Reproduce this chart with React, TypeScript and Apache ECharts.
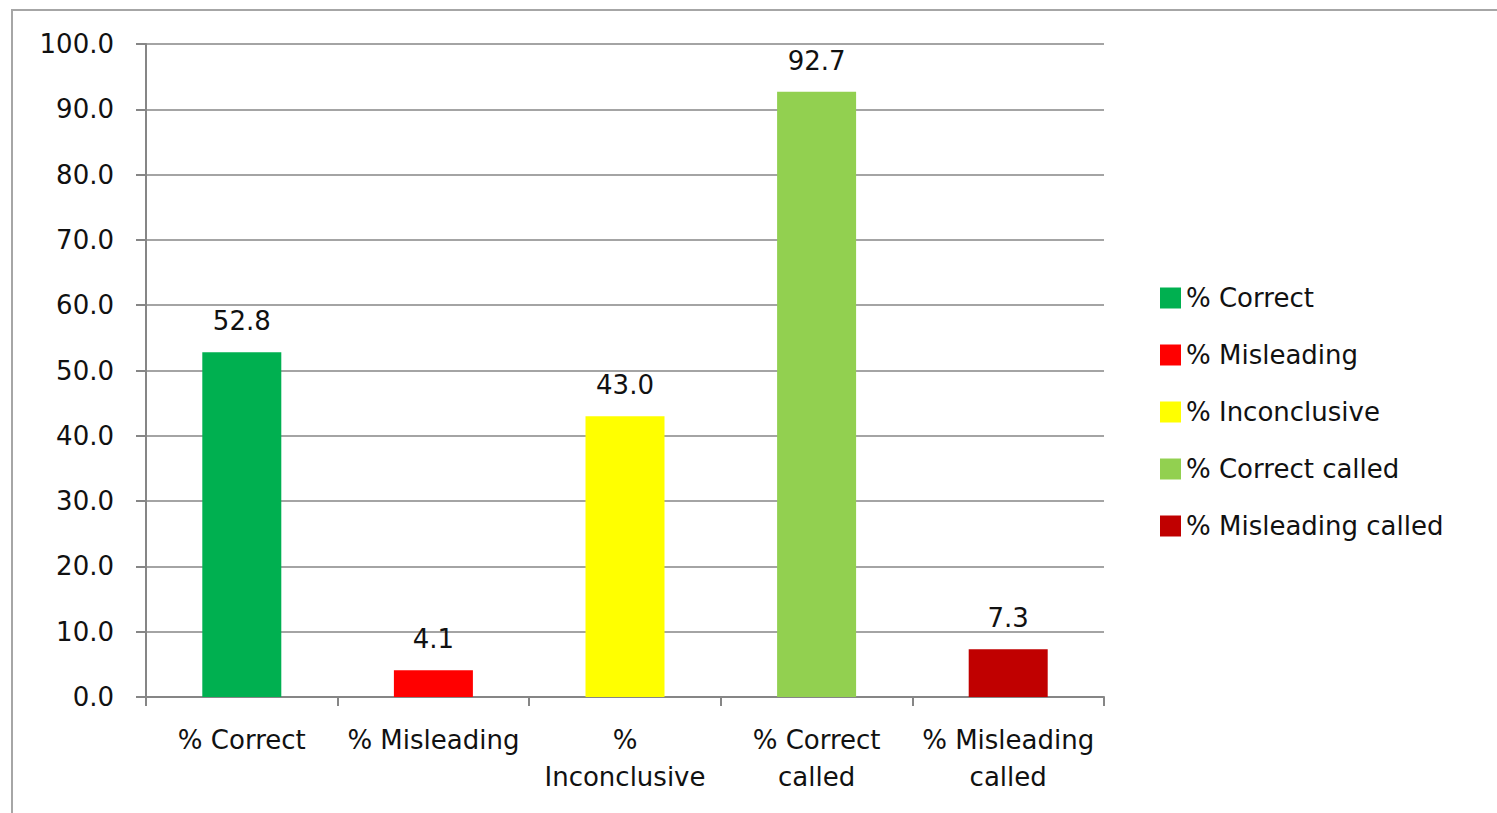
import React, { useEffect, useRef } from "react";
import * as echarts from "echarts";

const categories = ["% Correct", "% Misleading", "%\nInconclusive", "% Correct\ncalled", "% Misleading\ncalled"];
const seriesNames = ["% Correct", "% Misleading", "% Inconclusive", "% Correct called", "% Misleading called"];
const values = [52.8, 4.1, 43.0, 92.7, 7.3];
const colors = ["#00B050", "#FF0000", "#FFFF00", "#92D050", "#C00000"];
const yTicks = { min: 0, max: 100, interval: 10 };

const FONT = "DejaVu Sans";
const FS = 26;

export default function App() {
  const ref = useRef<HTMLDivElement>(null);
  useEffect(() => {
    if (!ref.current) return;
    const chart = echarts.init(ref.current, undefined, { renderer: "svg" });
    const series = seriesNames.map((name, i) => ({
      name,
      type: "bar",
      stack: "all",
      barWidth: 79,
      data: values.map((v, j) => (j === i ? v : null)),
      itemStyle: { color: colors[i] },
      label: {
        show: true,
        position: "top",
        distance: 18,
        fontFamily: FONT,
        fontSize: FS,
        color: "#111",
        formatter: (p: any) => (p.value == null ? "" : Number(p.value).toFixed(1)),
      },
    }));
    chart.setOption({
      animation: false,
      backgroundColor: "#fff",
      graphic: [
        {
          type: "rect",
          shape: { x: 12, y: 10, width: 1700, height: 1000 },
          style: { fill: "none", stroke: "#a6a6a6", lineWidth: 2 },
          silent: true,
        },
      ],
      grid: { left: 146, right: 393, top: 44, bottom: 116 },
      legend: {
        orient: "vertical",
        left: 1160,
        top: 285,
        padding: 0,
        itemWidth: 21,
        itemHeight: 21,
        itemGap: 31,
        itemTextGap: 7,
        icon: "rect",
        data: seriesNames,
        textStyle: { fontFamily: FONT, fontSize: FS, color: "#111" },
      },
      xAxis: {
        type: "category",
        data: categories,
        axisLine: { lineStyle: { color: "#868686", width: 2 } },
        axisTick: { show: true, length: 9, lineStyle: { color: "#868686", width: 2 } },
        axisLabel: {
          interval: 0,
          margin: 24,
          fontFamily: FONT,
          fontSize: FS,
          lineHeight: 37,
          color: "#111",
        },
      },
      yAxis: {
        type: "value",
        min: yTicks.min,
        max: yTicks.max,
        interval: yTicks.interval,
        axisLine: { show: true, lineStyle: { color: "#868686", width: 2 } },
        axisTick: { show: true, length: 10, lineStyle: { color: "#868686", width: 2 } },
        splitLine: { lineStyle: { color: "#868686", width: 1.5 } },
        axisLabel: {
          fontFamily: FONT,
          fontSize: FS,
          color: "#111",
          margin: 32,
          formatter: (v: number) => v.toFixed(1),
        },
      },
      series,
    });
    return () => chart.dispose();
  }, []);
  return (
    <div
      ref={ref}
      style={{ position: "fixed", left: 0, top: 0, width: 1497, height: 813 }}
    />
  );
}
